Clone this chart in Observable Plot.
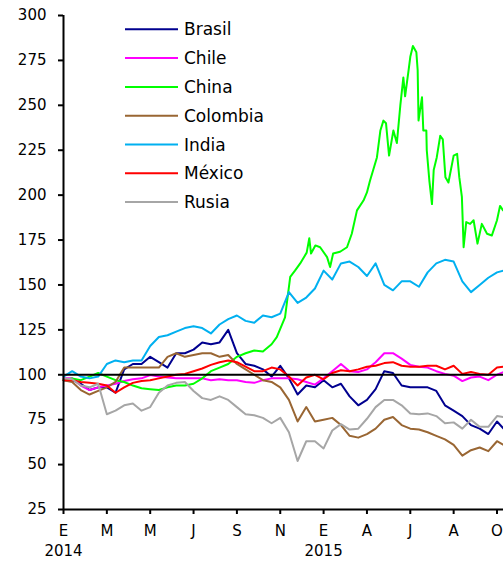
<!DOCTYPE html>
<html><head><meta charset="utf-8">
<script src="https://cdn.jsdelivr.net/npm/d3@7"></script>
<script src="https://cdn.jsdelivr.net/npm/@observablehq/plot@0.6"></script>
<style>
html,body{margin:0;padding:0;background:#fff;}
#chart{position:relative;width:503px;height:561px;overflow:hidden;}
</style></head><body><div id="chart"></div>
<script>
// x positions in units of the axis tick interval (0 = E 2014, 10 = O 2015)
const pos = [0,0.2,0.4,0.6,0.8,1,1.2,1.4,1.6,1.8,2,2.2,2.4,2.6,2.8,3,3.2,3.4,3.6,3.8,4,4.2,4.4,4.6,4.8,5,5.2,5.4,5.6,5.8,6,6.2,6.4,6.6,6.8,7,7.2,7.4,7.6,7.8,8,8.2,8.4,8.6,8.8,9,9.2,9.4,9.6,9.8,10,10.15];

const brasil = [97,97,95,91.5,93,93,90,103,106,106,110,107,104,112,112,114,118,117,118,125,112,106,105,103,99,105,98,89,94,93,97,93,95,88,83,86,92,102,101,94,93,93,93,91,83,80,77,72,70,67,74,70];
const chile = [98,98,94,91.5,93,94,95,96.5,97.5,98,99.8,99,98.5,98,98,98,98,97,97.5,97,97,96,95.5,97,98,98,98,97.5,96,94.5,98,102,106,102,101.5,103,107,112,112,109,105.5,104.5,104,102,100.5,99.5,96.5,98.5,99,97,100,101.5];
const colombia = [97,96,91.5,89,91,93,96,104,104,104,104,104,110,112,110,111,112,112,110,111,106,103,100,97,96,93,86,74,82,74,75,76,72,66,65,67,70,75,76.5,72,70,69.5,68,66,64,61,55,58,59.5,57.5,63,61];
const india = [99,102,99,98,99,106,108,107,108,108,116,121,122,124,126,127,126,123,128,131,133,130,129,133,132,134,146,140,143,148,158,153,162,163,160,155,162,150,147,152,152,149,157,162,164,163,152,146,150,154,157,158];
const mexico = [97,97,96,95.5,95,94,90,93,95.5,96.5,97,98,99,100,100.5,102,103.5,105.5,107,108,107,104.5,102,102,104,103,99,94,98.5,100,97.5,101,102.5,102,103,104.5,105,106.5,107,105,104.5,104.5,105,105,103,105,100.5,101.5,100.5,100,104,104.5];
const rusia = [98,97.5,94,93,95,78,80,83,84,80,82,90,94,95.5,96,91,87,86,88,86,82,78,77.5,76,73,76,68,52,63,63,59,69,72.5,69.5,70,75.5,82,86,86,83,78.5,78,78.5,77,73,73.5,70,75,71,71,77,76.5];

// China is read more finely (it is very spiky), with its own positions
const chinaPos = [0,0.2,0.4,0.6,0.8,1,1.2,1.4,1.6,1.8,2,2.2,2.4,2.6,2.8,3,3.2,3.4,3.6,3.8,4,4.2,4.4,4.6,4.8,4.92,5.11,5.23,5.34,5.46,5.61,5.67,5.71,5.81,5.92,6.08,6.15,6.22,6.38,6.54,6.65,6.77,6.92,7.0,7.07,7.23,7.31,7.38,7.44,7.51,7.61,7.69,7.77,7.84,7.88,7.96,8.0,8.06,8.14,8.17,8.19,8.27,8.3,8.37,8.38,8.44,8.5,8.54,8.61,8.69,8.75,8.81,8.88,9.0,9.08,9.13,9.19,9.23,9.29,9.38,9.46,9.55,9.65,9.77,9.88,10.0,10.07,10.14];
const china = [97,98,97,99,101,99,97,96,94,92.5,92,91.5,93,94,94,95,98,102,104,106,110,112,113.5,113,117,121,132,154.5,158,162,168,176,167.5,172,171,165.5,160,167.5,168.5,171,178.5,191.5,197,201.5,208,221,236,241.5,240,222,236,229,250,265.5,255,269.5,277,283,279.5,269.5,241.5,254.5,236,236,225,208,195,214,221,233,231,210,207,222,223,210,199,171,185,184,186,173,184,178.5,177.5,186,194,191.5];

const names = ["Brasil","Chile","China","Colombia","India","México","Rusia"];
const colors = ["#00008f","#ff00ff","#00ff00","#996633","#00b0f0","#ff0000","#a6a6a6"];
const values = [brasil, chile, china, colombia, india, mexico, rusia];
const positions = [pos, pos, chinaPos, pos, pos, pos, pos];

const tickPos = [0,1,2,3,4,5,6,7,8,9,10];
const monthLabels = ["E","M","M","J","S","N","E","A","J","A","O"];
const yearPos = [0,6];
const yearLabels = ["2014","2015"];
const yTicks = [25,50,75,100,125,150,175,200,225,250,275,300];

const rows = names.flatMap((n, s) => values[s].map((v, i) => ({name: n, x: positions[s][i], y: v})));

const plot = Plot.plot({
  width: 503, height: 561,
  marginLeft: 63, marginRight: 0, marginTop: 15, marginBottom: 52,
  style: {fontFamily: "'DejaVu Sans', sans-serif", fontSize: "15px", background: "white", color: "black"},
  x: {domain: [0, 10.15]},
  y: {domain: [25, 300]},
  color: {domain: names, range: colors},
  marks: [
    Plot.lineY(rows, {x: "x", y: "y", z: "name", stroke: "name", strokeWidth: 2}),
    Plot.ruleY([100], {stroke: "black", strokeWidth: 2}),
    Plot.ruleX([0], {stroke: "black", strokeWidth: 2}),
    Plot.ruleY([25], {stroke: "black", strokeWidth: 2}),
    Plot.axisY({ticks: yTicks, tickSize: 5, tickPadding: 12, strokeWidth: 2, fontSize: 15, tickFormat: d => String(d), label: null}),
    Plot.axisX({ticks: tickPos, tickSize: 5, tickPadding: 11, strokeWidth: 2, fontSize: 15, tickFormat: d => monthLabels[Math.round(d)], label: null}),
    Plot.axisX({ticks: yearPos, tickSize: 0, tickPadding: 36, fontSize: 15, tickFormat: d => yearLabels[yearPos.indexOf(d)], label: null})
  ]
});

const svg = d3.select(plot);
const lg = svg.append("g").attr("font-family", "'DejaVu Sans', sans-serif").attr("font-size", 17).attr("text-anchor", "start");
names.forEach((n, i) => {
  const y = 29.3 + i * 28.8;
  lg.append("line").attr("x1", 125).attr("x2", 178).attr("y1", y).attr("y2", y)
    .attr("stroke", colors[i]).attr("stroke-width", 2);
  lg.append("text").attr("x", 184).attr("y", y).attr("dy", "0.36em").attr("fill", "black").text(n);
});

document.getElementById("chart").appendChild(plot);
</script></body></html>
